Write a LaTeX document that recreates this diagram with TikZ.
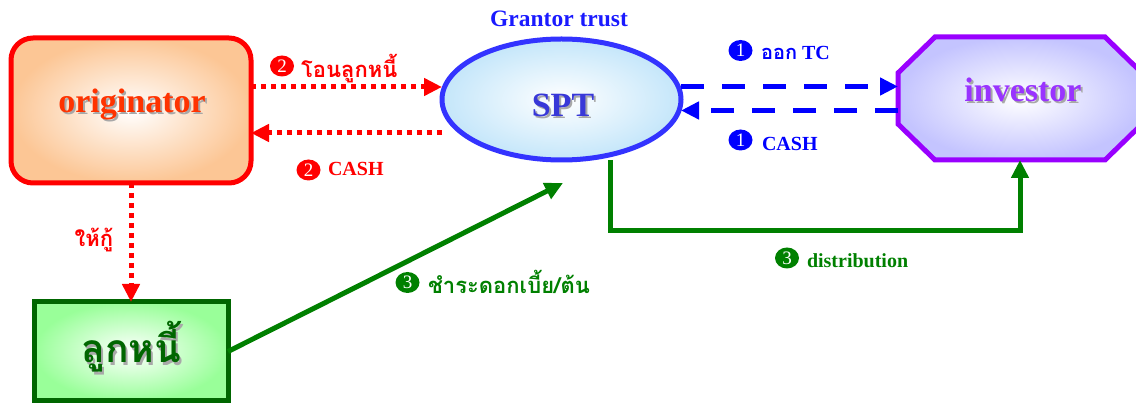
\documentclass[tikz,border=0pt]{standalone}
\usepackage{fontspec}
\setmainfont{Liberation Serif}
\newfontfamily\thai[Script=Thai]{Loma}
\usetikzlibrary{arrows.meta,shapes.geometric}

\definecolor{origred}{HTML}{FF0000}
\definecolor{peach}{HTML}{FCC695}
\definecolor{origtext}{HTML}{FF3300}
\definecolor{sptblue}{HTML}{3333FF}
\definecolor{sptfill}{HTML}{C4E6FA}
\definecolor{spttext}{HTML}{3838D8}
\definecolor{grantblue}{HTML}{1A1AFF}
\definecolor{lineblue}{HTML}{0000FF}
\definecolor{invpurple}{HTML}{9900FF}
\definecolor{invfill}{HTML}{C4C4FF}
\definecolor{invtext}{HTML}{9933FF}
\definecolor{debtgreen}{HTML}{006600}
\definecolor{debtfill}{HTML}{99FF99}
\definecolor{linegreen}{HTML}{008000}
\definecolor{shadowgray}{HTML}{A8A8A8}

% text with a soft grey drop shadow
\newcommand\shadowed[1]{\rlap{\kern2pt\raisebox{-2pt}{\color{shadowgray}#1}}#1}

\begin{document}
\begin{tikzpicture}[x=1pt,y=-1pt,
  every node/.style={inner sep=0pt,outer sep=0pt},
  bigbox/.style={line width=5pt,inner color=white},
  bigtext/.style={anchor=base,font=\bfseries\fontsize{34}{34}\selectfont},
  tip/.style={-{Triangle[length=18pt,width=17pt]}},
  reddot/.style={tip,draw=origred,line width=5pt,dash pattern=on 5pt off 5pt},
  bluedash/.style={tip,draw=lineblue,line width=5pt,dash pattern=on 23pt off 18pt},
  greenline/.style={tip,draw=linegreen,line width=5pt},
  numdot/.style={ellipse,fill=#1,text=white,minimum width=24pt,minimum height=21pt,
    font=\fontsize{19}{19}\selectfont},
  lbl/.style={anchor=base west,text=#1,font=\bfseries\fontsize{20}{20}\selectfont},
  thailbl/.style={anchor=base west,text=#1,font=\thai\bfseries\fontsize{22}{22}\selectfont}]
\useasboundingbox (0,0) rectangle (1136,403);
\clip (0,0) rectangle (1136,403);

% originator
\node[bigbox,draw=origred,rounded corners=22pt,outer color=peach,
  minimum width=240pt,minimum height=145pt] (orig) at (131,110.5) {};
\node[bigtext,text=origtext] (origlbl) at (132,113) {\shadowed{originator}};

% SPT
\node[bigbox,ellipse,draw=sptblue,outer color=sptfill,
  minimum width=239pt,minimum height=121pt] (spt) at (561.5,99.5) {};
\node[bigtext,text=spttext] (sptlbl) at (563,117) {\shadowed{SPT}};
\node[anchor=base,text=grantblue,font=\bfseries\fontsize{23.5}{23.5}\selectfont]
  (gt) at (559,27) {Grantor trust};

% investor: octagon with large chamfered corners
\node[minimum width=244pt,minimum height=123pt] (inv) at (1020,98.5) {};
\shade[bigbox,draw=invpurple,outer color=invfill]
  ([xshift=37pt]inv.north west) -- ([xshift=-37pt]inv.north east)
  -- ([yshift=-36pt]inv.north east) -- ([yshift=36pt]inv.south east)
  -- ([xshift=-37pt]inv.south east) -- ([xshift=37pt]inv.south west)
  -- ([yshift=36pt]inv.south west) -- ([yshift=-36pt]inv.north west) -- cycle;
\node[bigtext,text=invtext] (invlbl) at (1023,102) {\shadowed{investor}};

% debtor
\node[bigbox,draw=debtgreen,outer color=debtfill,
  minimum width=194pt,minimum height=99pt] (debt) at (131,351.5) {};
\node[anchor=base,text=debtgreen,font=\thai\bfseries\fontsize{39}{39}\selectfont]
  (debtlbl) at (131.5,363) {\shadowed{ลูกหนี้}};

% flows between originator and SPT
\draw[reddot] (orig.east |- 0,87) -- (spt.west |- 0,87);
\draw[reddot] (spt.west |- 0,133) -- (orig.east |- 0,133);
\draw[reddot] (orig.south) -- (debt.north);

% flows between SPT and investor
\draw[bluedash] (spt.east |- 0,86.5) -- (inv.west |- 0,86.5);
\draw[bluedash] (inv.west |- 0,110.5) -- (spt.east |- 0,110.5);

% repayments and distribution
\coordinate (payend) at (563,183);
\draw[greenline] (debt.east) -- (payend);
\coordinate (distturn) at (610,231);
\draw[greenline] (spt.south -| 610,0) -- (distturn) -| (inv.south);

% labels
\node[numdot=origred] (m2a) at (282,66) {2};
\node[thailbl=origred] (l2a) at (301,78) {โอนลูกหนี้};
\node[numdot=origred] (m2b) at (308.5,170) {2};
\node[lbl=origred] (l2b) at (328,176) {CASH};
\node[thailbl=origred,anchor=base] (loan) at (94,247) {ให้กู้};

\node[numdot=lineblue] (m1a) at (740.5,50.5) {1};
\node[lbl=lineblue] (l1a) at (761,60) {{\thai ออก} TC};
\node[numdot=lineblue] (m1b) at (740.5,140) {1};
\node[lbl=lineblue] (l1b) at (762,151) {CASH};

\node[numdot=linegreen] (m3a) at (407.5,282.5) {3};
\node[thailbl=linegreen] (l3a) at (428,294) {ชำระดอกเบี้ย/ต้น};
\node[numdot=linegreen] (m3b) at (787,258) {3};
\node[lbl=linegreen] (l3b) at (807,268) {distribution};
\end{tikzpicture}
\end{document}
